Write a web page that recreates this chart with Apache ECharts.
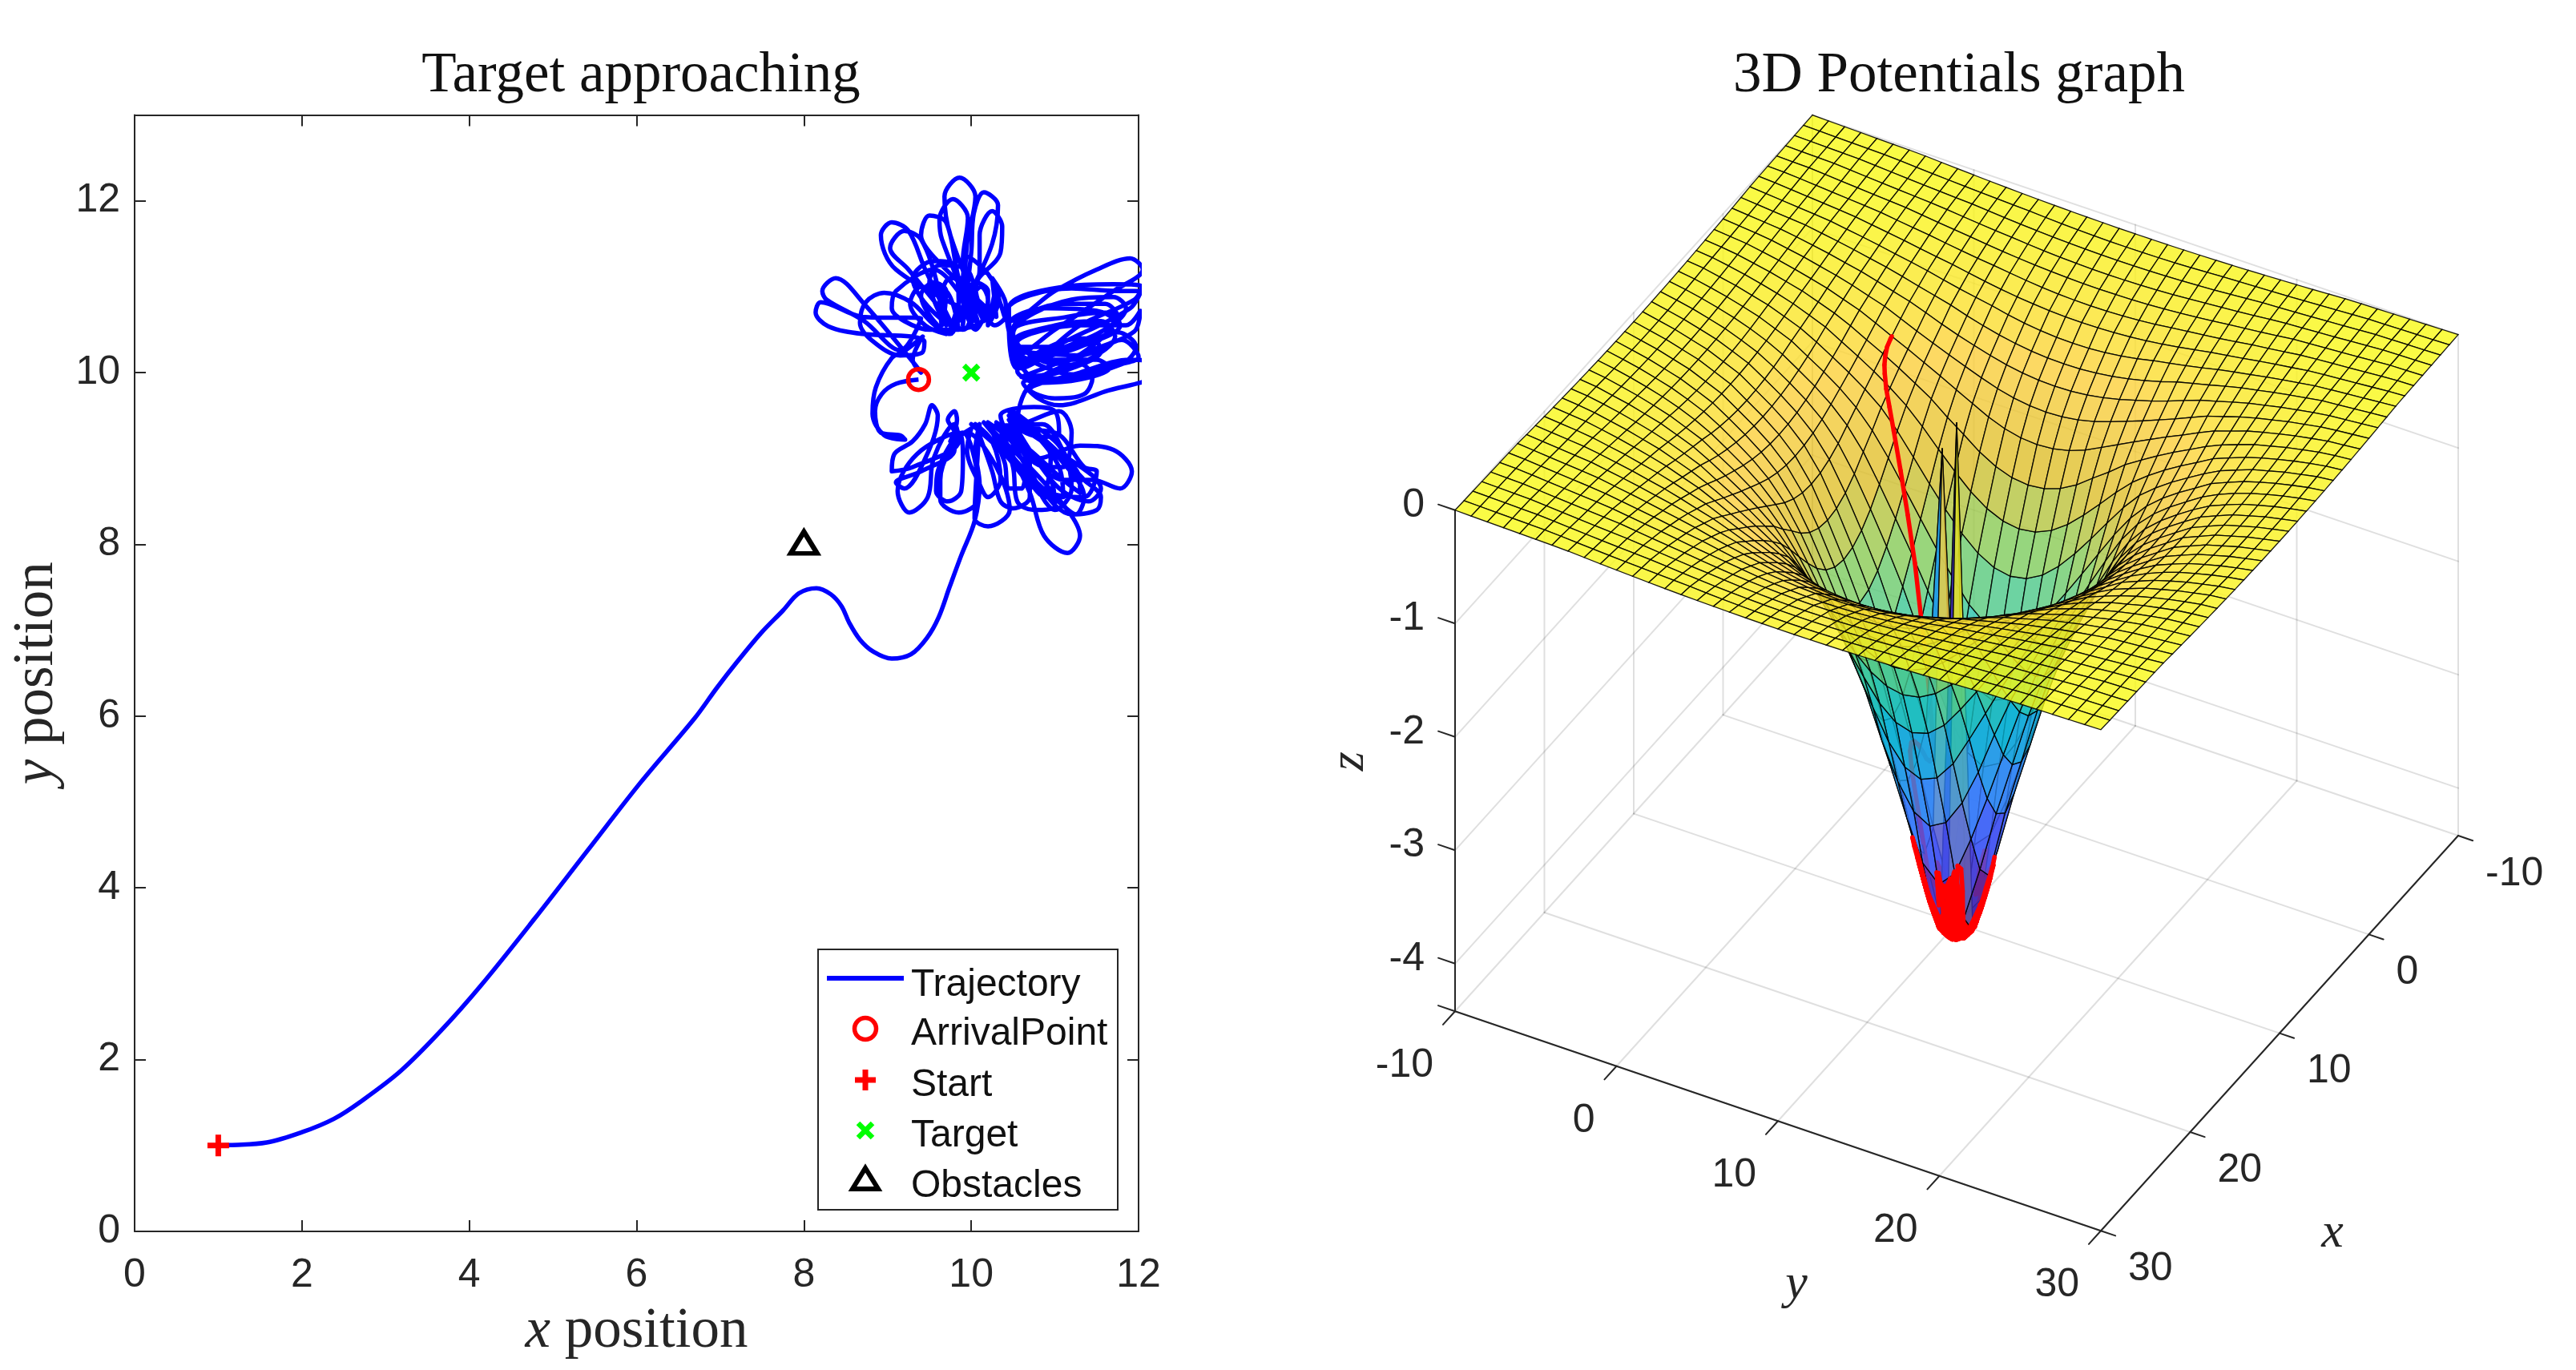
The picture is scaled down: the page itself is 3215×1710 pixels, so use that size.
<!DOCTYPE html>
<html><head><meta charset="utf-8">
<style>html,body{margin:0;padding:0;background:#fff}#c{width:3215px;height:1710px}</style>
<script src="https://cdn.jsdelivr.net/npm/echarts@6/dist/echarts.min.js"></script>
</head><body><div id="c"></div>
<script>
// ---------- DATA ----------
const legendLabels = ['Trajectory','ArrivalPoint','Start','Target','Obstacles'];
const startPoint = [1,1];
const targetPoint = [10,10];
const obstaclePoint = [8,8.02];
const arrivalPoint = [9.37,9.92];
const approachPath = [[1,1],[1.14,1.005],[1.58,1.035],[2,1.155],[2.38,1.31],[2.7,1.51],[3.18,1.868],[3.66,2.335],[4.14,2.864],[4.78,3.64],[5.41,4.43],[6.05,5.23],[6.69,5.97],[6.96,6.33],[7.2,6.63],[7.49,6.97],[7.75,7.23],[7.94,7.43],[8.15,7.49],[8.32,7.42],[8.45,7.28],[8.54,7.09],[8.67,6.89],[8.83,6.75],[9.05,6.67],[9.28,6.72],[9.47,6.91],[9.61,7.15],[9.74,7.5],[9.88,7.87],[10.04,8.27],[10.1,8.7],[10.05,9.1],[10.1,9.4]];
const petalsBottom = [
[10.05,8.6],[10.04,8.3],[10.2,8.21],[10.46,8.4],[10.3,8.9],[9.95,9.3],
[9.63,8.75],[9.63,8.52],[9.85,8.37],[10.08,8.52],[10.05,8.95],[9.9,9.3],
[9.6,8.85],[9.58,8.62],[9.72,8.5],[9.88,8.62],[9.9,9.0],[9.85,9.3],
[9.35,9.05],[9.12,8.62],[9.26,8.37],[9.48,8.55],[9.55,9.0],[9.8,9.4],
[9.85,9.2],[9.3,8.9],[9.05,8.85],[9.08,9.05],[9.3,9.2],[9.45,9.4],[9.53,9.62],[9.6,9.5],[9.45,9.0],[9.2,8.65],[9.1,8.72],[9.4,8.85],[9.8,9.1],
[9.8,9.3],[9.72,9.45],[9.8,9.55],[9.83,9.45],[9.75,9.2],
[10.0,9.35],[9.95,9.1],[10.1,8.7],[10.2,8.55],[10.35,8.75],[10.25,9.2],[10.05,9.4],
[10.25,8.85],[10.35,8.5],[10.5,8.42],[10.7,8.55],[10.7,8.95],[10.35,9.35],
[10.5,8.9],[10.55,8.5],[10.75,8.4],[11.0,8.45],[10.95,8.75],[10.6,9.2],[10.3,9.42],
[10.7,8.6],[10.87,8.1],[11.15,7.9],[11.3,8.1],[11.15,8.4],[10.6,9.0],[10.15,9.42],
[10.7,8.8],[11.1,8.45],[11.25,8.35],[11.35,8.55],[11.1,8.95],[10.5,9.55],
[10.75,9.35],[10.95,9.0],[10.85,8.6],[10.7,8.7],[10.4,9.05],[10.0,9.4],
[10.55,8.95],[10.9,8.55],[11.1,8.55],[11.05,8.9],[10.75,9.3],[10.45,9.55],
[11.05,9.15],[11.2,8.65],[11.0,8.4],[10.85,8.55],[10.6,9.1],[10.2,9.42],
[10.4,8.95],[10.45,8.65],[10.6,8.65],[10.65,9.0],[10.5,9.35],
[10.85,9.4],[11.15,9.0],[11.3,8.75],[11.3,8.6],[11.1,8.75],[10.7,9.1],[10.3,9.4],
[10.8,9.0],[11.3,9.15],[11.7,9.1],[11.92,8.85],[11.78,8.65],[11.45,8.75],[11.1,8.75],[10.45,9.45],
[11.0,9.1],[11.45,8.8],[11.55,8.65],[11.4,8.5],[11.0,8.7],[10.45,9.5],
[10.9,9.2],[11.35,8.75],[11.55,8.55],[11.5,8.4],[11.2,8.35],[10.8,8.7],[10.4,9.35],
[11.0,9.3],[11.35,8.9],[11.5,8.85],[11.35,8.55],[10.95,8.6],[10.25,9.35],
[10.6,9.4],[11.05,9.55],[11.2,9.3],[11.1,8.9],[10.9,8.9],[10.5,9.2],[10.35,9.5],
[10.75,9.6],[11.0,9.55],[11.05,9.3],[10.85,9.25],[10.55,9.4]
];
const petalsRight = [
[10.7,9.85],[11.3,10.1],[11.45,9.95],[11.35,9.75],[11.0,9.7],[10.7,9.8],
[11.3,10.0],[11.9,10.15],[12.2,10.1],[12.2,9.98],[11.6,9.78],[11.05,9.62],[10.8,9.7],[10.62,9.88],
[11.2,9.95],[11.8,10.1],[12.0,10.18],[11.8,10.38],[11.3,10.2],[10.5,10.25],
[11.2,9.98],[11.8,10.1],[11.97,10.3],[11.75,10.47],[11.2,10.3],[10.55,10.3],
[11.0,10.15],[11.5,10.15],[11.65,10.05],[11.3,9.92],[10.8,9.88],[10.55,10.02],
[11.05,10.35],[11.45,10.4],[11.55,10.25],[11.2,10.05],[10.75,9.95],[10.5,10.35],
[11,10.55],[11.55,10.6],[11.72,10.42],[11.4,10.15],[10.9,9.98],[10.6,9.95],
[11.4,10.25],[11.95,10.48],[12.02,10.72],[11.85,10.55],[11.3,10.55],[10.55,10.35],
[11.0,10.1],[11.5,10.35],[11.7,10.6],[11.5,10.72],[10.9,10.75],[10.45,10.55],
[10.55,10.05],[10.9,10.2],[11.5,10.45],[11.75,10.65],[11.6,10.8],[11.1,10.8],[10.5,10.5],
[10.6,10.05],[10.8,10.15],[11.3,10.3],[11.78,10.55],[11.65,10.7],[11.15,10.65],[10.5,10.48],
[10.6,10.05],[11,10.25],[11.6,10.5],[11.85,10.75],[11.7,10.88],[11.2,10.85],[10.5,10.45],
[10.6,10.15],[11.2,10.4],[11.9,10.75],[12.03,10.95],[11.75,10.95],[11.2,10.98],[10.42,10.7],
[10.65,10.1],[11.3,10.55],[11.95,10.85],[12.04,11.0],[11.7,11.03],[11.1,11.0],[10.45,10.75],
[10.55,10.2],[11.0,10.5],[11.7,10.95],[12.05,11.2],[11.9,11.33],[11.5,11.2],[11.0,10.95],[10.45,10.6],[10.35,10.8]
];
const petalsTop = [
[10.3,10.95],[10.2,10.62],
[10.05,11.0],[10.35,11.4],[10.37,11.7],[10.25,11.88],[10.1,11.6],[10.1,11.2],[9.85,10.6],
[9.98,10.9],[10.25,11.5],[10.32,11.95],[10.15,12.1],[10.03,11.85],[10.0,11.4],[9.9,10.55],
[9.95,11.5],[10.05,12.05],[9.86,12.27],[9.68,12.05],[9.75,11.6],[10.15,10.6],
[9.9,11.3],[9.96,11.8],[9.78,12.02],[9.62,11.78],[9.65,11.55],[10.05,10.6],
[9.85,11.1],[9.7,11.75],[9.5,11.83],[9.4,11.6],[9.55,11.35],[10.3,10.65],
[10.25,11.1],[10.4,10.85],[10.42,10.68],[10.28,10.55],[10.1,10.75],[9.95,10.52],
[10.0,10.6],[9.95,10.9],[10.05,11.05],[10.2,10.95],[10.2,10.55],
[10.33,10.85],[10.2,11.15],[9.95,11.35],[9.9,10.9],[10.05,10.5],
[10.2,10.85],[10.12,11.0],[10.0,10.85],[10.08,10.58],
[9.75,10.5],[9.95,11.1],[9.75,11.1],[9.65,10.9],[9.7,10.55],
[9.5,11.05],[9.62,11.25],[9.95,11.2],[10.05,10.7],[9.9,10.5],
[9.3,11.1],[9.55,11.3],[9.8,11.25],[9.85,10.75],[9.75,10.45],
[9.4,10.9],[9.55,11.05],[9.7,10.95],[9.65,10.55],
[9.6,11.0],[9.4,11.55],[9.2,11.65],[9.03,11.45],[9.25,11.2],[9.75,10.6],
[9.45,11.2],[9.25,11.65],[9.05,11.75],[8.92,11.6],[9.1,11.2],[10.0,10.7],
[9.55,11.2],[9.1,10.95],[9.05,10.75],[9.2,10.6],[9.5,10.5],
[9.85,10.5],[9.7,10.95],[9.4,11.0],[9.27,10.8],[9.45,10.55],[9.7,10.45]
];
const petalsLeft = [
[9.53,10.58],[9.28,10.82],[8.96,10.93],[8.74,10.82],[8.67,10.58],[8.83,10.36],[9.15,10.2],[9.41,10.23],[9.44,10.36],[9.28,10.42],[8.7,10.45],[8.29,10.54],[8.14,10.7],[8.2,10.82],[8.7,10.65],[9.4,10.63],
[9.15,10.26],[8.72,10.6],[8.27,10.85],[8.22,10.95],[8.38,11.1],[8.72,10.8],[9.34,10.08],[9.4,10.0],[9.3,10.15],
[9.42,10.42],[9.2,10.25],[9.05,10.17],[8.86,9.83],[8.82,9.52],[8.96,9.27],[9.21,9.22],[9.15,9.27],[8.92,9.3],[8.85,9.55],[8.93,9.75],[9.1,9.87],[9.37,9.92]
];
// surface: depth of the potential well against distance from the target, read from the silhouette
const wellRadius = [0,0.5,1,1.5,2,2.5,3,4,5,5.5,6,7,8,9,10,11,12,14,16,18,20,24,28.3,40];
const wellDepth  = [-4.55,-4.52,-4.43,-4.2,-3.9,-3.6,-3.3,-2.8,-2.3,-2.09,-1.88,-1.55,-1.25,-0.98,-0.78,-0.64,-0.53,-0.34,-0.22,-0.14,-0.08,-0.02,0,0];
const surfaceSpikes = [[8,8,-0.5],[10,10,0]];
const xTicks3D = [-10,0,10,20,30];
const yTicks3D = [-10,0,10,20,30];
const zTicks3D = [0,-1,-2,-3,-4];
const parula = [[62,38,168],[71,71,235],[62,111,255],[39,150,235],[8,181,208],[49,198,159],[129,204,89],[220,189,41],[252,207,60],[249,251,21]];

// ---------- helpers ----------
const trajectory = approachPath.concat(petalsBottom,petalsRight,petalsTop,petalsLeft);
const FONT = '"Liberation Sans"', SERIF = '"Liberation Serif"', INK = '#262626';
const zFloor = -4.42, zMin = -4.55, gridMin = -10, gridMax = 30;
function project(x,y,z){return [2262+(x+10)*-11.15+(y+10)*20.15, 143.6+(x+10)*12.33+(y+10)*6.85-141.5*z];}
function depth(x,y,z){return 15.9*x+8.84*y+109.6*z;}
function wellAt(x,y){
  const r=Math.hypot(x-targetPoint[0],y-targetPoint[1]);
  for(let i=1;i<wellRadius.length;i++){ if(r<=wellRadius[i]){const t=(r-wellRadius[i-1])/(wellRadius[i]-wellRadius[i-1]);return wellDepth[i-1]+t*(wellDepth[i]-wellDepth[i-1]);} }
  return 0;
}
function surfaceZ(x,y){ for(const s of surfaceSpikes){ if(s[0]===x&&s[1]===y) return s[2]; } return wellAt(x,y); }
function isSpike(x,y){ return surfaceSpikes.some(s=>s[0]===x&&s[1]===y); }
function colorOf(z){
  const f=Math.max(0,Math.min(1,(z-zMin)/(0-zMin)))*(parula.length-1);
  const i=Math.min(parula.length-2,Math.floor(f)),t=f-i,a=parula[i],b=parula[i+1];
  return 'rgba('+[0,1,2].map(k=>Math.round(a[k]+t*(b[k]-a[k]))).join(',')+',0.8)';
}
// ---------- 3D primitives ----------
const prims=[];
const GRIDC='rgba(38,38,38,0.15)';
function line3(a,b,color,w){prims.push({k:'l',pts:[a,b],c:color,w:w});}
xTicks3D.forEach(v=>{ line3([v,gridMin,zFloor],[v,gridMax,zFloor],GRIDC,2); line3([v,gridMin,zFloor],[v,gridMin,0],GRIDC,2); });
yTicks3D.forEach(v=>{ line3([gridMin,v,zFloor],[gridMax,v,zFloor],GRIDC,2); line3([gridMin,v,zFloor],[gridMin,v,0],GRIDC,2); });
zTicks3D.forEach(v=>{ line3([gridMin,gridMin,v],[gridMax,gridMin,v],GRIDC,2); line3([gridMin,gridMin,v],[gridMin,gridMax,v],GRIDC,2); });
line3([30,-10,zFloor],[30,-10,0],INK,2);
line3([30,-10,zFloor],[30,30,zFloor],INK,2);
line3([-10,30,zFloor],[30,30,zFloor],INK,2);
zTicks3D.concat([zFloor]).forEach(v=>line3([30,-10,v],[30,-11.04,v],INK,2));
yTicks3D.forEach(v=>line3([30,v,zFloor],[31.35,v,zFloor],INK,2));
xTicks3D.forEach(v=>line3([v,30,zFloor],[v,30.9,zFloor],INK,2));
// paint order: far half of the surface, spikes, near half of the surface
const nearDir=[0.874,0.486];
function cosNear(x,y){const dx=x-targetPoint[0],dy=y-targetPoint[1],r=Math.hypot(dx,dy)||1;return (dx*nearDir[0]+dy*nearDir[1])/r;}
const FAR=-10000,MID=-5000;
const sorted=[];
for(let x=gridMin;x<gridMax;x++)for(let y=gridMin;y<gridMax;y++){
  const corners=[[x,y],[x+1,y],[x+1,y+1],[x,y+1]];
  const c=corners.map(p=>[p[0],p[1],surfaceZ(p[0],p[1])]);
  let d=0;c.forEach(p=>d+=depth(p[0],p[1],wellAt(p[0],p[1]))/4);
  const spike=corners.some(p=>isSpike(p[0],p[1]));
  const key=spike?MID+depth(x,y,0)*0.01:(cosNear(x+.5,y+.5)<0?FAR+d:d);
  sorted.push({k:'f',pts:c,fill:colorOf(c[0][2]),d:key});
}
for(let i=0;i<trajectory.length-1;i++){
  const a=trajectory[i],b=trajectory[i+1];
  const pa=[a[0],a[1],wellAt(a[0],a[1])],pb=[b[0],b[1],wellAt(b[0],b[1])];
  const cos=cosNear((a[0]+b[0])/2,(a[1]+b[1])/2);
  const base=(depth(pa[0],pa[1],pa[2])+depth(pb[0],pb[1],pb[2]))/2;
  const onTop=cos>0.8||(cos>-0.1&&cos<0.45);
  const key=i<approachPath.length-4?FAR+base+45:(onTop?base+250:FAR+base+8);
  sorted.push({k:'l',pts:[pa,pb],c:'#ff0000',w:5.5,d:key});
}
sorted.sort((a,b)=>a.d-b.d);
sorted.forEach(p=>prims.push(p));
// text
function text3(t,p3,dx,dy,align,font,rot,col){prims.push({k:'t',t:t,p:p3,dx:dx,dy:dy,align:align,font:font,rot:rot||0,col:col||INK});}
const F50='50px '+FONT, FM='italic 62px '+SERIF;
zTicks3D.forEach(v=>text3(String(v),[30,-10,v],-38,-6,'right',F50));
yTicks3D.forEach(v=>text3(String(v),[30,v,zFloor],-27,68,'right',F50));
xTicks3D.forEach(v=>text3(String(v),[v,30,zFloor],34,48,'left',F50));
text3('x',[10,30,zFloor],66,250,'center',FM);
text3('y',[30,10,zFloor],23,204,'center',FM);
text3('z',[30,-10,-2.2],-131,2,'center',FM,Math.PI/2);

function renderPrim(params,api){
  const p=prims[api.value(0)];
  const pos=q=>{const s=project(q[0],q[1],q[2]);return api.coord(s);};
  if(p.k==='f') return {type:'polygon',shape:{points:p.pts.map(pos)},style:{fill:p.fill,stroke:'rgba(0,0,0,0.9)',lineWidth:1.3}};
  if(p.k==='l') return {type:'polyline',shape:{points:p.pts.map(pos)},style:{fill:null,stroke:p.c,lineWidth:p.w,lineCap:'round'}};
  const a=pos(p.p);
  return {type:'text',x:a[0]+p.dx,y:a[1]+p.dy,rotation:p.rot,style:{text:p.t,font:p.font,fill:p.col,textAlign:p.align,textVerticalAlign:'middle'}};
}
// ---------- chart ----------
const legendFont='48px '+FONT;
const legendRows=[1230,1291,1355,1418,1481];
const chart=echarts.init(document.getElementById('c'),null,{renderer:'canvas'});
const axisCommon={axisLine:{show:true,onZero:false,lineStyle:{color:INK,width:2}},axisTick:{show:true,inside:true,length:14,lineStyle:{color:INK,width:2}},splitLine:{show:false}};
const nameRich={i:{fontFamily:'Liberation Serif',fontStyle:'italic',fontSize:71,color:INK},r:{fontFamily:'Liberation Serif',fontSize:71,color:INK}};
chart.setOption({
  animation:false,backgroundColor:'#fff',
  title:[
    {text:'Target approaching',left:795,top:55,textAlign:'center',textStyle:{fontFamily:'Liberation Serif',fontSize:71,fontWeight:'normal',color:'#111'}},
    {text:'3D Potentials graph',left:2440,top:55,textAlign:'center',textStyle:{fontFamily:'Liberation Serif',fontSize:71,fontWeight:'normal',color:'#111'}}
  ],
  grid:[
    {left:168,top:143.5,width:1253,height:1393.5,outerBoundsMode:'none',containLabel:false},
    {left:1650,top:0,width:1565,height:1710,outerBoundsMode:'none',containLabel:false}
  ],
  xAxis:[
    Object.assign({},axisCommon,{type:'value',gridIndex:0,min:0,max:12,interval:2,position:'bottom',
      axisLabel:{fontFamily:'Liberation Sans',fontSize:50,color:INK,margin:30},
      name:'{i|x}{r| position}',nameLocation:'middle',nameGap:90,nameTextStyle:{rich:nameRich}}),
    Object.assign({},axisCommon,{type:'value',gridIndex:0,min:0,max:12,interval:2,position:'top',axisLabel:{show:false}}),
    {type:'value',gridIndex:1,min:1650,max:3215,show:false}
  ],
  yAxis:[
    Object.assign({},axisCommon,{type:'value',gridIndex:0,min:0,max:13,interval:2,position:'left',
      axisLabel:{fontFamily:'Liberation Sans',fontSize:50,color:INK,margin:18,showMaxLabel:false},
      name:'{i|y}{r| position}',nameLocation:'middle',nameGap:86,nameTextStyle:{rich:nameRich}}),
    Object.assign({},axisCommon,{type:'value',gridIndex:0,min:0,max:13,interval:2,position:'right',axisLabel:{show:false}}),
    {type:'value',gridIndex:1,min:0,max:1710,inverse:true,show:false}
  ],
  series:[
    {type:'line',name:legendLabels[0],xAxisIndex:0,yAxisIndex:0,data:trajectory,showSymbol:false,smooth:0.34,lineStyle:{color:'#0000ff',width:5.5,join:'round'},silent:true,clip:true,z:2},
    {type:'scatter',name:legendLabels[1],xAxisIndex:0,yAxisIndex:0,data:[arrivalPoint],symbol:'circle',symbolSize:26,itemStyle:{color:'rgba(0,0,0,0)',borderColor:'#ff0000',borderWidth:5.5,opacity:1},silent:true,z:3},
    {type:'scatter',name:legendLabels[2],xAxisIndex:0,yAxisIndex:0,data:[startPoint],symbol:'path://M0 -10L0 10M-10 0L10 0',symbolSize:27,itemStyle:{color:'rgba(0,0,0,0)',borderColor:'#ff0000',borderWidth:7,opacity:1},silent:true,z:3},
    {type:'scatter',name:legendLabels[3],xAxisIndex:0,yAxisIndex:0,data:[targetPoint],symbol:'path://M-10 -10L10 10M-10 10L10 -10',symbolSize:18,itemStyle:{color:'rgba(0,0,0,0)',borderColor:'#00ff00',borderWidth:6.5,opacity:1},silent:true,z:3},
    {type:'scatter',name:legendLabels[4],xAxisIndex:0,yAxisIndex:0,data:[obstaclePoint],symbol:'triangle',symbolSize:[33,27],itemStyle:{color:'rgba(0,0,0,0)',borderColor:'#000',borderWidth:6,opacity:1},silent:true,z:3},
    {type:'custom',name:'3D Potentials',xAxisIndex:2,yAxisIndex:2,coordinateSystem:'cartesian2d',data:prims.map((p,i)=>[i,0]),encode:{x:0},renderItem:renderPrim,silent:true,clip:false,progressive:0,z:2}
  ],
  graphic:[
    {type:'rect',z:50,shape:{x:1021,y:1185,width:374,height:325},style:{fill:'#fff',stroke:INK,lineWidth:2}},
    {type:'line',z:51,shape:{x1:1032,y1:1221,x2:1128,y2:1221},style:{stroke:'#0000ff',lineWidth:6}},
    {type:'circle',z:51,shape:{cx:1080,cy:1284,r:13.5},style:{fill:null,stroke:'#ff0000',lineWidth:5.5}},
    {type:'polyline',z:51,shape:{points:[[1067,1348],[1093,1348]]},style:{stroke:'#ff0000',lineWidth:7,fill:null}},
    {type:'polyline',z:51,shape:{points:[[1080,1335],[1080,1361]]},style:{stroke:'#ff0000',lineWidth:7,fill:null}},
    {type:'polyline',z:51,shape:{points:[[1071,1402],[1089,1420]]},style:{stroke:'#00ff00',lineWidth:6.5,fill:null}},
    {type:'polyline',z:51,shape:{points:[[1071,1420],[1089,1402]]},style:{stroke:'#00ff00',lineWidth:6.5,fill:null}},
    {type:'polygon',z:51,shape:{points:[[1080,1458],[1096,1484],[1064,1484]]},style:{fill:null,stroke:'#000',lineWidth:6}}
  ].concat(legendLabels.map((t,i)=>({type:'text',z:51,x:1137,y:legendRows[i],style:{text:t,font:legendFont,fill:'#111',textVerticalAlign:'middle'}})))
});
</script></body></html>
